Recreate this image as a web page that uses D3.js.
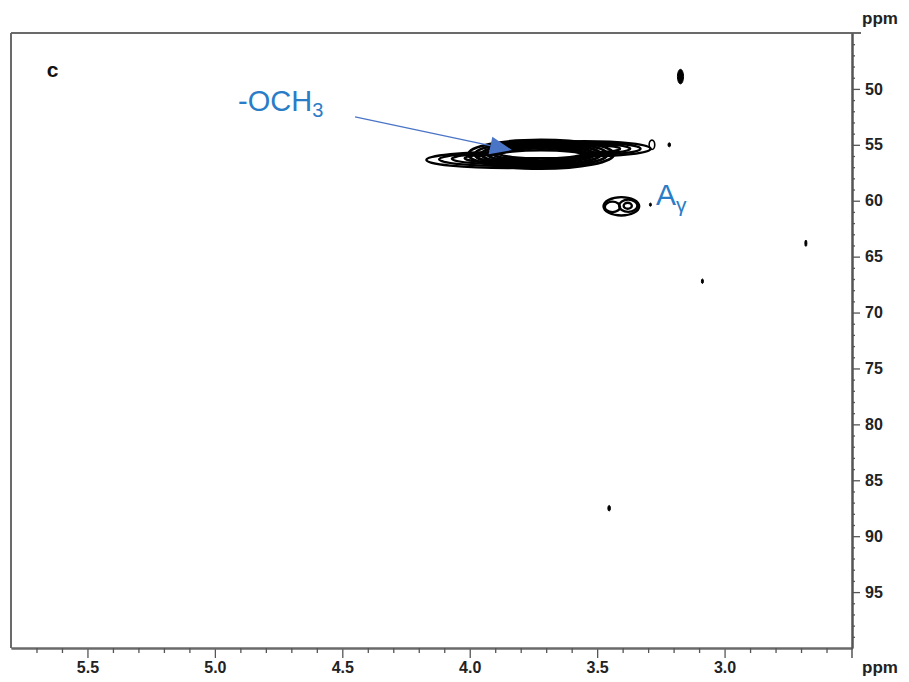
<!DOCTYPE html>
<html>
<head>
<meta charset="utf-8">
<script src="https://cdn.jsdelivr.net/npm/d3@7"></script>
<style>
  body { margin: 0; background: #fff; }
  svg { display: block; }
  .tick text { font-family: "Liberation Sans", Arial, sans-serif; font-weight: bold; font-size: 16px; fill: #222; }
</style>
</head>
<body>
<svg id="chart" width="909" height="682"></svg>
<script>
// ---------------- data ----------------
const xDomain = [5.8, 2.5];           // 1H ppm (reversed)
const yDomain = [45, 100];            // 13C ppm (down)
const xMajorTicks = [5.5, 5.0, 4.5, 4.0, 3.5, 3.0];
const xTickLabels = ["5.5", "5.0", "4.5", "4.0", "3.5", "3.0"];
const yMajorTicks = [50, 55, 60, 65, 70, 75, 80, 85, 90, 95];
const yTickLabels = ["50", "55", "60", "65", "70", "75", "80", "85", "90", "95"];

// contour rings: [x ppm, y ppm, half-width ppm (1H), half-height ppm (13C)]
const ochTailLeft = [
  [3.85, 56.35, 0.320, 0.72],
  [3.85, 56.30, 0.270, 0.60],
  [3.85, 56.25, 0.220, 0.49],
  [3.85, 56.20, 0.170, 0.39],
  [3.85, 56.15, 0.120, 0.30]
];
const ochTailRight = [
  [3.55, 55.35, 0.260, 0.68],
  [3.55, 55.35, 0.220, 0.56],
  [3.55, 55.35, 0.180, 0.45],
  [3.55, 55.35, 0.140, 0.34]
];
const ochCore = [
  [3.72, 55.85, 0.285, 1.28],
  [3.72, 55.85, 0.260, 1.10],
  [3.72, 55.85, 0.235, 0.92],
  [3.72, 55.85, 0.210, 0.74],
  [3.72, 55.85, 0.185, 0.56],
  [3.72, 55.85, 0.158, 0.36]
];
const smallRings = [
  [3.285, 55.00, 0.011, 0.42]
];
const agammaRings = [
  [3.405, 60.50, 0.070, 0.82],
  [3.440, 60.55, 0.030, 0.47],
  [3.378, 60.45, 0.036, 0.55],
  [3.380, 60.45, 0.016, 0.27]
];
// isolated small cross peaks (filled)
const spots = [
  [3.173, 48.90, 0.012, 0.65],
  [3.217, 55.00, 0.005, 0.18],
  [3.291, 60.35, 0.004, 0.14],
  [2.681, 63.80, 0.004, 0.28],
  [3.087, 67.20, 0.004, 0.20],
  [3.453, 87.50, 0.005, 0.25]
];
// annotations (data units)
const panelLabel = { text: "c", x: 5.66, y: 48.95 };
const ochLabel = { x: 4.909, y: 51.95 };
const ochArrow = { x1: 4.45, y1: 52.5, x2: 3.834, y2: 55.47 };
const agLabel = { x: 3.269, y: 60.4 };

// ---------------- layout ----------------
const svg = d3.select("#chart");
const mLeft = 11, mRight = 852, mTop = 33, mBottom = 648;
const x = d3.scaleLinear().domain(xDomain).range([mLeft, mRight]);
const y = d3.scaleLinear().domain(yDomain).range([mTop, mBottom]);

const frameColor = "#6a6a6a";
const blue = "#2a7cc7";
const arrowBlue = "#4a74c6";

// frame
svg.append("line").attr("x1", mLeft).attr("x2", mRight + 9).attr("y1", mTop).attr("y2", mTop)
  .attr("stroke", frameColor).attr("stroke-width", 2);
svg.append("line").attr("x1", mLeft).attr("x2", mLeft).attr("y1", mTop).attr("y2", mBottom)
  .attr("stroke", frameColor).attr("stroke-width", 2);

// minor ticks
const xMinor = d3.range(26, 58).map(d => d / 10).filter(v => !xMajorTicks.some(m => Math.abs(m - v) < 1e-6));
const yMinor = d3.range(46, 100).filter(v => v % 5 !== 0);

// bottom axis
const gx = svg.append("g").attr("transform", `translate(0,${mBottom})`);
gx.call(d3.axisBottom(x).tickValues(xMajorTicks).tickFormat((d, i) => xTickLabels[i]).tickSize(10).tickSizeOuter(0).tickPadding(4));
const gxm = svg.append("g").attr("transform", `translate(0,${mBottom})`);
gxm.call(d3.axisBottom(x).tickValues(xMinor).tickFormat("").tickSize(5).tickSizeOuter(0));
[gx, gxm].forEach(g => {
  g.select(".domain").attr("stroke", frameColor).attr("stroke-width", 2);
  g.selectAll(".tick line").attr("stroke", "#555").attr("stroke-width", 1.3);
});

// right axis
const gy = svg.append("g").attr("transform", `translate(${mRight},0)`);
gy.call(d3.axisRight(y).tickValues(yMajorTicks).tickFormat((d, i) => yTickLabels[i]).tickSize(8).tickSizeOuter(0).tickPadding(5));
const gym = svg.append("g").attr("transform", `translate(${mRight},0)`);
gym.call(d3.axisRight(y).tickValues(yMinor).tickFormat("").tickSize(3).tickSizeOuter(0));
[gy, gym].forEach(g => {
  g.select(".domain").attr("stroke", "#555").attr("stroke-width", 2);
  g.selectAll(".tick line").attr("stroke", "#555").attr("stroke-width", 1.3);
});
// axis line continues below frame as end tick
svg.append("line").attr("x1", mRight).attr("x2", mRight).attr("y1", mBottom).attr("y2", mBottom + 10)
  .attr("stroke", "#555").attr("stroke-width", 1.5);

// unit labels
svg.append("text").attr("x", mRight + 10).attr("y", 24).text("ppm")
  .attr("font-family", "Liberation Sans, Arial, sans-serif").attr("font-weight", "bold").attr("font-size", 17).attr("fill", "#222");
svg.append("text").attr("x", mRight + 10).attr("y", mBottom + 25).text("ppm")
  .attr("font-family", "Liberation Sans, Arial, sans-serif").attr("font-weight", "bold").attr("font-size", 17).attr("fill", "#222");

// ---------------- contours ----------------
const plot = svg.append("g");
function rings(data, opts) {
  plot.selectAll(null).data(data).enter().append("ellipse")
    .attr("cx", d => x(d[0]))
    .attr("cy", d => y(d[1]))
    .attr("rx", d => Math.abs(x(d[0] - d[2]) - x(d[0])))
    .attr("ry", d => Math.abs(y(d[1] + d[3]) - y(d[1])))
    .attr("fill", opts.fill || "none")
    .attr("stroke", "#000")
    .attr("stroke-width", opts.sw || 2.2);
}
rings(ochTailLeft, { sw: 2.4 });
rings(ochTailRight, { sw: 2.4 });
rings(ochCore.slice(0, -1), { sw: 2.9 });
rings(ochCore.slice(-1), { sw: 2.6, fill: "#fff" });
rings(smallRings, { sw: 1.6 });
rings(agammaRings, { sw: 2.4 });
rings(spots, { sw: 1, fill: "#000" });

// ---------------- annotations ----------------
svg.append("text").attr("x", x(panelLabel.x)).attr("y", y(panelLabel.y)).text(panelLabel.text)
  .attr("font-family", "Liberation Sans, Arial, sans-serif").attr("font-weight", "bold")
  .attr("font-size", 21).attr("fill", "#111");

const och = svg.append("text").attr("x", x(ochLabel.x)).attr("y", y(ochLabel.y))
  .attr("font-family", "Liberation Sans, Arial, sans-serif").attr("font-size", 29).attr("fill", blue);
och.append("tspan").text("-OCH");
och.append("tspan").text("3").attr("font-size", 20).attr("dy", 6);

const ag = svg.append("text").attr("x", x(agLabel.x)).attr("y", y(agLabel.y))
  .attr("font-family", "Liberation Sans, Arial, sans-serif").attr("font-size", 30).attr("fill", blue);
ag.append("tspan").text("A");
ag.append("tspan").text("γ").attr("font-size", 21).attr("dy", 7);

// arrow
const ax1 = x(ochArrow.x1), ay1 = y(ochArrow.y1), ax2 = x(ochArrow.x2), ay2 = y(ochArrow.y2);
const ang = Math.atan2(ay2 - ay1, ax2 - ax1);
const headLen = 22, headHalf = 9;
const bx = ax2 - headLen * Math.cos(ang), by = ay2 - headLen * Math.sin(ang);
svg.append("line").attr("x1", ax1).attr("y1", ay1).attr("x2", bx).attr("y2", by)
  .attr("stroke", arrowBlue).attr("stroke-width", 1.3);
svg.append("path")
  .attr("d", `M${ax2},${ay2}L${bx - headHalf * Math.sin(ang)},${by + headHalf * Math.cos(ang)}L${bx + headHalf * Math.sin(ang)},${by - headHalf * Math.cos(ang)}Z`)
  .attr("fill", arrowBlue);
</script>
</body>
</html>
